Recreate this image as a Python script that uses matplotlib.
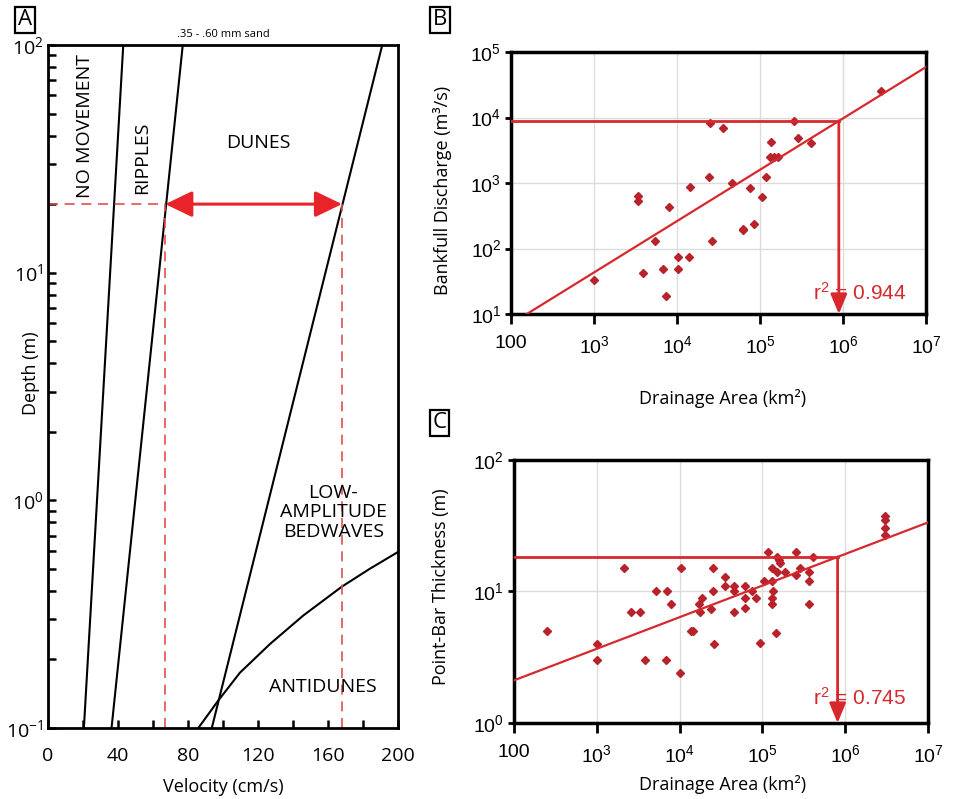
import numpy as np
import matplotlib
matplotlib.use('Agg')
import matplotlib.pyplot as plt

# --- Panel A: bedform stability diagram (.35 - .60 mm sand) ---
depth_ends = [0.1, 100]
vel_nomove = [20.5, 43]
vel_ripples = [36.3, 77]
vel_dunes = [93.6, 191]
anti_vel = [85.9, 97.3, 109.7, 126.9, 145.9, 167.8, 184, 200]
anti_depth = [0.1, 0.132, 0.175, 0.234, 0.312, 0.417, 0.501, 0.593]
dune_depth = 20
dune_vmin, dune_vmax = 67, 168

# --- Panel B: drainage area vs bankfull discharge ---
b_area = [1000, 3400, 3400, 7900, 5400, 3900, 6800, 7300, 10200, 10200, 13800,
          14500, 24300, 25200, 35600, 26700, 46500, 62500, 62500, 83500, 75000,
          105000, 118000, 137000, 131000, 148000, 166000, 257000, 285000, 415000,
          2.9e6]
b_q = [33, 630, 540, 430, 130, 43, 48, 19, 73, 48, 73,
       870, 1230, 8300, 7000, 130, 1000, 190, 200, 235, 830,
       620, 1230, 4200, 2500, 2500, 2500, 8700, 4800, 4100,
       25700]
b_fit_x = [155, 1e7]
b_fit_y = [10, 59000]
b_pick = (8.9e5, 8900)
b_r2 = '0.944'

# --- Panel C: drainage area vs point-bar thickness ---
c_area = [250, 1000, 1000, 2160, 2570, 3300, 3800, 5200, 7050, 6800, 7800,
          10200, 10500, 13800, 14700, 17400, 17700, 18900, 24300, 25000, 25000,
          25900, 35300, 35300, 45200, 45200, 45200, 62400, 62400, 62400, 75100,
          83200, 94900, 104000, 117000, 132000, 132000, 134000, 132000, 132000,
          148000, 151000, 151000, 160000, 165000, 190000, 257000, 257000, 288000,
          363000, 363000, 363000, 408000, 3.0e6, 3.0e6, 3.0e6, 3.0e6]
c_thick = [5.0, 4.0, 3.0, 15.1, 7.0, 7.0, 3.0, 10, 10, 3.0, 8.05,
           2.4, 15.1, 5.0, 5.0, 8.05, 7.0, 9.0, 7.3, 10, 15.1,
           4.0, 13.0, 11.1, 11.1, 10, 7.0, 11.1, 9.0, 7.5, 10,
           9.0, 4.07, 12, 20, 12, 15.1, 10, 9.0, 8.05,
           4.8, 14, 18.4, 17.5, 16.6, 14, 20, 13.4, 15.1,
           14, 12, 8.05, 18.2, 37.7, 34.9, 30.5, 26.8]
c_fit_x = [100, 1e7]
c_fit_y = [2.11, 33.5]
c_pick = (8.1e5, 18.3)
c_r2 = '0.745'

area_ticks = [1e2, 1e3, 1e4, 1e5, 1e6, 1e7]
area_labels = ['100'] + [r'$\mathregular{10^{%d}}$' % k for k in range(3, 8)]

RED = '#d7282e'
DOT = '#b8232b'
LABEL_FONT = 'Open Sans'
TICK_FONT = 'Liberation Sans'

plt.rcParams['font.family'] = [LABEL_FONT, 'DejaVu Sans']

fig = plt.figure(figsize=(9.76, 7.99), dpi=100)

# ---------------- Panel A ----------------
axA = fig.add_axes([0.0492, 0.0889, 0.3586, 0.8548])
axA.set_yscale('log')
axA.set_xlim(0, 200)
axA.set_ylim(0.1, 100)
for v in (vel_nomove, vel_ripples, vel_dunes):
    axA.plot(v, depth_ends, color='black', lw=1.5)
axA.plot(anti_vel, anti_depth, color='black', lw=1.5)

dash = dict(color='#e2504f', lw=1.2, dashes=(6, 4))
axA.plot([0, dune_vmin], [dune_depth, dune_depth], **dash)
axA.plot([dune_vmin, dune_vmin], [0.1, dune_depth], **dash)
axA.plot([dune_vmax, dune_vmax], [0.1, dune_depth], **dash)
axA.annotate('', xy=(dune_vmax, dune_depth), xytext=(dune_vmin, dune_depth),
             arrowprops=dict(arrowstyle='<|-|>,head_length=0.83,head_width=0.4',
                             color='#e8242a', lw=2.2, shrinkA=0, shrinkB=0,
                             mutation_scale=20))

axA.text(21, 44, 'NO MOVEMENT', rotation=90, ha='center', va='center', fontsize=14)
axA.text(54, 32, 'RIPPLES', rotation=90, ha='center', va='center', fontsize=14)
axA.text(120, 37, 'DUNES', ha='center', va='center', fontsize=14)
axA.text(163, 0.885, 'LOW-\nAMPLITUDE\nBEDWAVES', ha='center', va='center',
         fontsize=14, linespacing=1.1)
axA.text(157, 0.151, 'ANTIDUNES', ha='center', va='center', fontsize=14)
axA.text(0.5, 1.008, '.35 - .60 mm sand', transform=axA.transAxes,
         ha='center', va='bottom', fontsize=8)

axA.set_xticks(np.arange(0, 201, 40))
axA.set_xticks(np.arange(20, 200, 40), minor=True)
axA.set_yticks([0.1, 1, 10, 100])
axA.set_yticklabels([r'$\mathregular{10^{-1}}$', r'$\mathregular{10^{0}}$',
                     r'$\mathregular{10^{1}}$', r'$\mathregular{10^{2}}$'])
axA.tick_params(which='both', direction='in', top=False, right=False,
                labelsize=14, width=1.8)
axA.tick_params(which='major', length=6)
axA.tick_params(which='minor', length=6)
axA.tick_params(axis='x', pad=14)
for s in axA.spines.values():
    s.set_linewidth(2)
axA.set_xlabel('Velocity (cm/s)', fontsize=13)
axA.set_ylabel('Depth (m)', fontsize=13)
axA.xaxis.set_label_coords(0.5, -0.073)
axA.yaxis.set_label_coords(-0.023, 0.52)


# ---------------- Panels B and C ----------------
def scatter_panel(ax, x, y, fit_x, fit_y, pick, r2, ylim, yticks, ylabels,
                  ylabel, r2_pos):
    ax.set_xscale('log')
    ax.set_yscale('log')
    ax.set_xlim(100, 1e7)
    ax.set_ylim(*ylim)
    ax.grid(True, color='#dcdcdc', lw=1)
    ax.set_axisbelow(True)
    ax.plot(x, y, 'D', color=DOT, ms=3.6, mec=DOT, zorder=3)
    ax.plot(fit_x, fit_y, color=RED, lw=1.6, zorder=4)
    ax.plot([100, pick[0]], [pick[1], pick[1]], color=RED, lw=2, zorder=4)
    ax.annotate('', xy=(pick[0], ylim[0]), xytext=pick,
                arrowprops=dict(arrowstyle='-|>,head_length=0.6,head_width=0.25',
                                color=RED, lw=2, shrinkA=0, shrinkB=0,
                                mutation_scale=20), zorder=5)
    ax.text(r2_pos[0], r2_pos[1], r'r$\mathregular{^2}$ = ' + r2, color=RED,
            fontsize=15, family=TICK_FONT, ha='left', va='center', zorder=6)
    ax.set_xticks(area_ticks)
    ax.set_xticklabels(area_labels)
    ax.set_yticks(yticks)
    ax.set_yticklabels(ylabels)
    ax.minorticks_off()
    ax.tick_params(axis='x', direction='out', length=7, width=2, labelsize=14, pad=8)
    ax.tick_params(axis='y', direction='out', length=4, width=2, labelsize=14, pad=3)
    for lab in ax.get_xticklabels() + ax.get_yticklabels():
        lab.set_family(TICK_FONT)
    for s in ax.spines.values():
        s.set_linewidth(2.5)
    ax.set_ylabel(ylabel, fontsize=13)
    ax.set_xlabel('Drainage Area (km²)', fontsize=13)


axB = fig.add_axes([0.5236, 0.607, 0.4252, 0.3279])
scatter_panel(axB, b_area, b_q, b_fit_x, b_fit_y, b_pick, b_r2,
              (10, 1e5), [1e1, 1e2, 1e3, 1e4, 1e5],
              [r'$\mathregular{10^{%d}}$' % k for k in range(1, 6)],
              'Bankfull Discharge (m³/s)', (4.3e5, 21))
axB.yaxis.set_label_coords(-0.142, 0.47)
axB.xaxis.set_label_coords(0.51, -0.286)

axC = fig.add_axes([0.5266, 0.0951, 0.4242, 0.3292])
scatter_panel(axC, c_area, c_thick, c_fit_x, c_fit_y, c_pick, c_r2,
              (1, 100), [1, 10, 100],
              [r'$\mathregular{10^{%d}}$' % k for k in range(0, 3)],
              'Point-Bar Thickness (m)', (4.1e5, 1.55))
axC.yaxis.set_label_coords(-0.155, 0.517)
axC.xaxis.set_label_coords(0.505, -0.198)

# panel letters in boxes
box = dict(boxstyle='square,pad=0.12', fc='white', ec='black', lw=1.6)
fig.text(0.0256, 0.975, 'A', fontsize=16, ha='center', va='center', bbox=box)
fig.text(0.451, 0.975, 'B', fontsize=16, ha='center', va='center', bbox=box)
fig.text(0.450, 0.4706, 'C', fontsize=16, ha='center', va='center', bbox=box)

fig.savefig('out.png', dpi=100)
